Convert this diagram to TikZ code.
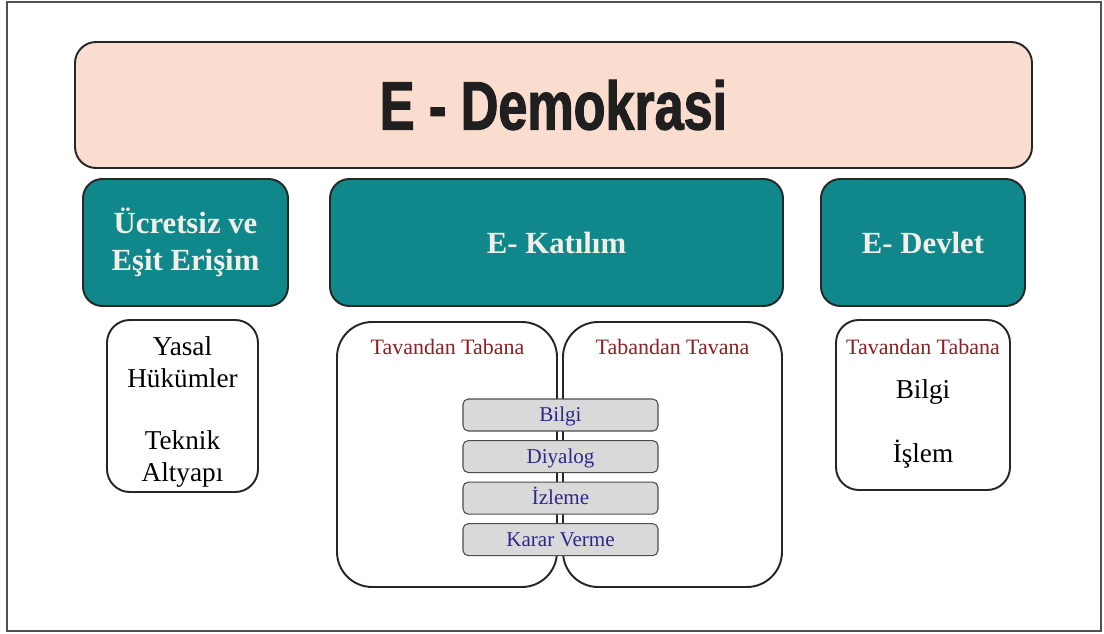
\documentclass[tikz,border=0pt]{standalone}
\usepackage{fontspec}
\setmainfont{Liberation Serif}
\newfontfamily\titlefont[FakeStretch=0.76,FakeBold=1.6]{Liberation Sans}
\usetikzlibrary{positioning}
\definecolor{eteal}{RGB}{16,135,138}
\definecolor{epink}{RGB}{251,221,207}
\definecolor{ered}{RGB}{140,32,36}
\definecolor{eblue}{RGB}{45,40,140}
\definecolor{egray}{RGB}{217,217,217}
\definecolor{eframe}{RGB}{80,80,80}
\definecolor{etext}{RGB}{242,238,232}

\begin{document}
\begin{tikzpicture}[
  bx/.style={draw=black!85,line width=1.1pt,align=center,inner sep=0pt},
  demo/.style={bx,fill=epink,rounded corners=12pt,minimum width=19.14cm,
               minimum height=2.52cm,text=black!88,
               font=\titlefont\bfseries\fontsize{39}{40}\selectfont},
  tb/.style={bx,fill=eteal,rounded corners=11pt,minimum height=2.54cm,
             text=etext,font=\bfseries\fontsize{17.5}{21}\selectfont},
  wb/.style={bx,fill=white,rounded corners=13pt},
  pb/.style={bx,fill=white,rounded corners=20pt,minimum width=4.4cm,
             minimum height=5.3cm},
  hd/.style={text=ered,inner sep=0pt,font=\fontsize{12.5}{15}\selectfont},
  tx/.style={inner sep=0pt,align=center,font=\fontsize{15.5}{18.5}\selectfont},
  st/.style={draw=black!70,line width=0.6pt,fill=egray,rounded corners=3pt,
             minimum width=3.9cm,minimum height=0.64cm,inner sep=0pt,
             text height=2.1ex,text depth=0.5ex,
             text=eblue,font=\fontsize{12}{14}\selectfont},
  ]
  \useasboundingbox (0,0) rectangle (22.08,12.66);
  \draw[eframe,line width=1.4pt] (0.14,0.04) rectangle (22.02,12.62);

  % top
  \node[demo] (demo) at (11.07,10.56) {E - Demokrasi};

  % teal row
  \node[tb,minimum width=4.1cm]  (erisim)  at (3.71,7.81)  {Ücretsiz ve\\Eşit Erişim};
  \node[tb,minimum width=9.06cm] (katilim) at (11.13,7.81) {E- Katılım};
  \node[tb,minimum width=4.08cm] (devlet)  at (18.46,7.81) {E- Devlet};

  % left
  \node[wb,minimum width=3.02cm,minimum height=3.44cm] (yasal) at (3.65,4.54) {};
  \node[tx] (yasal-tx) at (3.65,4.42) {Yasal\\Hükümler\\[16.5pt]Teknik\\Altyapı};

  % middle
  \node[pb] (tavan) at (8.94,3.57) {};
  \node[pb,minimum width=4.38cm] (taban) at (13.45,3.57) {};
  \node[hd,anchor=base] (tavan-hd) at (8.95,5.58)  {Tavandan Tabana};
  \node[hd,anchor=base] (taban-hd) at (13.45,5.58) {Tabandan Tavana};
  \node[st] (bilgi) at (11.21,4.36) {Bilgi};
  \node[st,below=0.17cm of bilgi]   (diyalog) {Diyalog};
  \node[st,below=0.17cm of diyalog] (izleme)  {İzleme};
  \node[st,below=0.17cm of izleme]  (karar)   {Karar Verme};

  % right
  \node[wb,minimum width=3.48cm,minimum height=3.4cm] (dv) at (18.46,4.56) {};
  \node[hd,anchor=base] (dv-hd)    at (18.46,5.58) {Tavandan Tabana};
  \node[tx,anchor=base] (dv-bilgi) at (18.46,4.70) {Bilgi};
  \node[tx,anchor=base] (dv-islem) at (18.46,3.42) {İşlem};
\end{tikzpicture}
\end{document}
